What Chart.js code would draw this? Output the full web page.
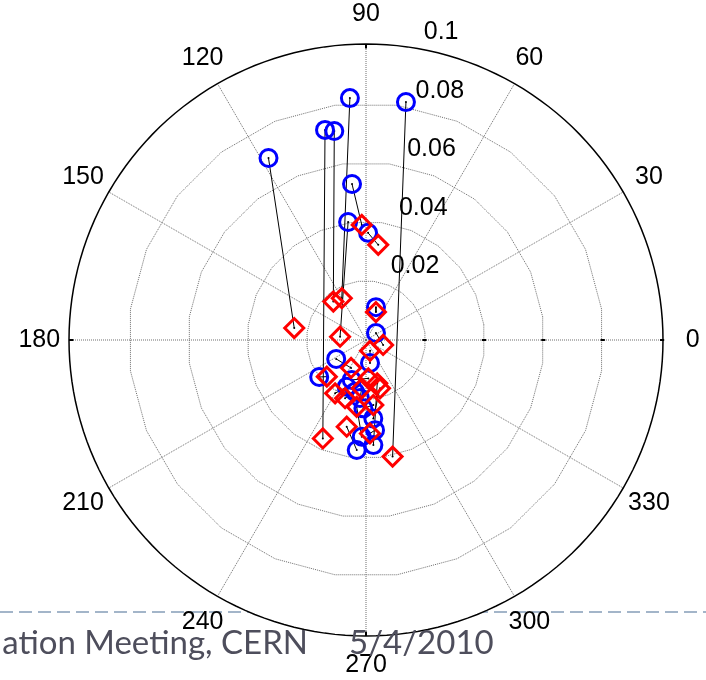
<!DOCTYPE html>
<html>
<head>
<meta charset="utf-8">
<script src="https://cdn.jsdelivr.net/npm/chart.js@4.4.1/dist/chart.umd.min.js"></script>
<style>
  body { margin: 0; background: #fff; overflow: hidden; }
  #wrap { position: relative; width: 706px; height: 680px; overflow: hidden; }
  #chart { position: absolute; left: 0; top: 0; z-index: 2; }
  #dash {
    position: absolute; left: 0; top: 611px; width: 706px; height: 2px; z-index: 1;
    background-image: repeating-linear-gradient(to right, #a3b5c9 0 13px, transparent 13px 19px);
  }
  .foot {
    position: absolute; top: 619px; font: 33px Lato, sans-serif; color: #4e4e5c;
    white-space: nowrap; line-height: 44px; z-index: 3;
  }
  #place { right: 398px; }
  #date { left: 349px; }
</style>
</head>
<body>
<div id="wrap">
  <div id="dash"></div>
  <canvas id="chart" width="706" height="680"></canvas>
  <div class="foot" id="place">ation Meeting, CERN</div>
  <div class="foot" id="date">5/4/2010</div>
</div>
<script>
// -------------------- DATA --------------------
const ringRadii = [0.02, 0.04, 0.06, 0.08, 0.1];
const ringLabels = ["0.02", "0.04", "0.06", "0.08", "0.1"];
const angleTicks = [0, 30, 60, 90, 120, 150, 180, 210, 240, 270, 300, 330];

// blue circles (start of each pair): angle in degrees, radius
const thetaBlue = [93.8, 80.5, 101.0, 98.6, 118.1, 95.1, 98.6, 88.9, 73.2, 35.1, 279.8, 218.4,
  212.5, 250.4, 247.7, 258.1, 267.8, 275.3, 275.7, 267.5, 265.2, 274.0, 264.1];
const rBlue = [0.0819, 0.0815, 0.0723, 0.0714, 0.0697, 0.0529, 0.0403, 0.0362, 0.0116, 0.0041, 0.0079, 0.0201,
  0.0119, 0.0143, 0.0171, 0.0179, 0.0231, 0.0266, 0.0306, 0.0327, 0.0373, 0.0356, 0.0197];

// red diamonds (end of each pair)
const thetaRed = [120.0, 282.8, 246.4, 130.3, 170.5, 92.1, 172.7, 82.7, 70.5, 343.8, 290.4, 223.2,
  242.0, 273.4, 240.0, 250.3, 276.4, 286.1, 272.4, 262.1, 257.5, 284.5, 265.0];
const rRed = [0.0163, 0.0404, 0.0363, 0.0170, 0.0245, 0.0389, 0.0088, 0.0324, 0.0100, 0.0060, 0.0039, 0.0181,
  0.0107, 0.0130, 0.0208, 0.0209, 0.0221, 0.0170, 0.0316, 0.0228, 0.0300, 0.0151, 0.0164];

// -------------------- HELPERS --------------------
const rad = d => d * Math.PI / 180;
const toXY = (deg, r) => ({ x: r * Math.cos(rad(deg)), y: r * Math.sin(rad(deg)) });

const bluePts = thetaBlue.map((t, i) => toXY(t, rBlue[i]));
const redPts = thetaRed.map((t, i) => toXY(t, rRed[i]));

// -------------------- POLAR GRID PLUGIN --------------------
function polarPixel(chart, deg, r) {
  const { x, y } = chart.scales;
  return [x.getPixelForValue(r * Math.cos(rad(deg))), y.getPixelForValue(r * Math.sin(rad(deg)))];
}

const polarGrid = {
  id: "polarGrid",
  beforeDraw(chart) {
    // white disc so the footer rule only shows outside the plot
    const ctx = chart.ctx;
    const rmax = ringRadii[ringRadii.length - 1];
    ctx.save();
    ctx.fillStyle = "#fff";
    ctx.beginPath();
    for (let k = 0; k <= 180; k++) {
      const p = polarPixel(chart, k * 2, rmax);
      if (k === 0) ctx.moveTo(p[0], p[1]); else ctx.lineTo(p[0], p[1]);
    }
    ctx.fill();
    ctx.restore();
  },
  beforeDatasetsDraw(chart) {
    const ctx = chart.ctx;
    const P = (deg, r) => polarPixel(chart, deg, r);
    const rmax = ringRadii[ringRadii.length - 1];

    ctx.save();
    ctx.strokeStyle = "#6e6e6e";
    ctx.lineWidth = 1;
    ctx.setLineDash([1, 1]);

    // spokes
    angleTicks.forEach(a => {
      const c = P(0, 0), e = P(a, rmax);
      ctx.beginPath();
      ctx.moveTo(c[0], c[1]);
      ctx.lineTo(e[0], e[1]);
      ctx.stroke();
    });

    // inner rings (coarse polygons)
    ringRadii.slice(0, -1).forEach(r => {
      ctx.beginPath();
      for (let k = 0; k <= 24; k++) {
        const p = P(7.5 + k * 15, r);
        if (k === 0) ctx.moveTo(p[0], p[1]); else ctx.lineTo(p[0], p[1]);
      }
      ctx.stroke();
    });

    // outer ring
    ctx.setLineDash([]);
    ctx.strokeStyle = "#000";
    ctx.lineWidth = 1.5;
    ctx.beginPath();
    for (let k = 0; k <= 180; k++) {
      const p = P(k * 2, rmax);
      if (k === 0) ctx.moveTo(p[0], p[1]); else ctx.lineTo(p[0], p[1]);
    }
    ctx.stroke();

    // small ticks on the 0 deg axis
    ctx.lineWidth = 2;
    ringRadii.forEach(r => {
      const a = P(0, r - 0.001), b = P(0, r + 0.0004);
      ctx.beginPath();
      ctx.moveTo(a[0], a[1]);
      ctx.lineTo(b[0], b[1]);
      ctx.stroke();
    });
    [90, 180, 270].forEach(a => {
      const p1 = P(a, rmax - 0.0015), p2 = P(a, rmax);
      ctx.beginPath();
      ctx.moveTo(p1[0], p1[1]);
      ctx.lineTo(p2[0], p2[1]);
      ctx.stroke();
    });
    ctx.restore();
  },
  afterDraw(chart) {
    const ctx = chart.ctx;
    const P = (deg, r) => polarPixel(chart, deg, r);
    const rmax = ringRadii[ringRadii.length - 1];

    ctx.save();
    ctx.fillStyle = "#000";
    ctx.font = "25px 'Liberation Sans', Arial, sans-serif";

    // angle labels
    ctx.textAlign = "center";
    ctx.textBaseline = "middle";
    angleTicks.forEach(a => {
      const p = P(a, rmax * 1.1);
      ctx.fillText(String(a), p[0], p[1]);
    });

    // radius labels along 82 deg
    ctx.textAlign = "left";
    ctx.textBaseline = "alphabetic";
    ringRadii.forEach((r, i) => {
      const p = P(82, r + 0.001);
      ctx.fillText(ringLabels[i], p[0] + 16, p[1] - 5);
    });
    ctx.restore();
  }
};

// -------------------- DATASETS --------------------
const datasets = [];

datasets.push({
  label: "after",
  data: redPts,
  pointStyle: "rectRot",
  pointRadius: 9.5,
  pointBorderWidth: 3,
  pointBorderColor: "#ff0000",
  pointBackgroundColor: "rgba(0,0,0,0)",
  clip: false
});

datasets.push({
  label: "before",
  data: bluePts,
  pointStyle: "circle",
  pointRadius: 8.5,
  pointBorderWidth: 3,
  pointBorderColor: "#0000ff",
  pointBackgroundColor: "rgba(0,0,0,0)",
  clip: false
});

bluePts.forEach((b, i) => {
  datasets.push({
    label: "pair" + i,
    data: [b, redPts[i]],
    showLine: true,
    borderColor: "#000",
    borderWidth: 1,
    pointRadius: 1,
    pointBorderWidth: 0,
    pointBackgroundColor: "#000",
    clip: false
  });
});

// -------------------- CHART --------------------
new Chart(document.getElementById("chart"), {
  type: "scatter",
  data: { datasets: datasets },
  options: {
    responsive: false,
    animation: false,
    devicePixelRatio: 1,
    layout: { padding: { left: 69, right: 43, top: 44, bottom: 44 } },
    scales: {
      x: { type: "linear", min: -0.1, max: 0.1, display: false },
      y: { type: "linear", min: -0.1, max: 0.1, display: false }
    },
    plugins: {
      legend: { display: false },
      tooltip: { enabled: false }
    }
  },
  plugins: [polarGrid]
});
</script>
</body>
</html>
